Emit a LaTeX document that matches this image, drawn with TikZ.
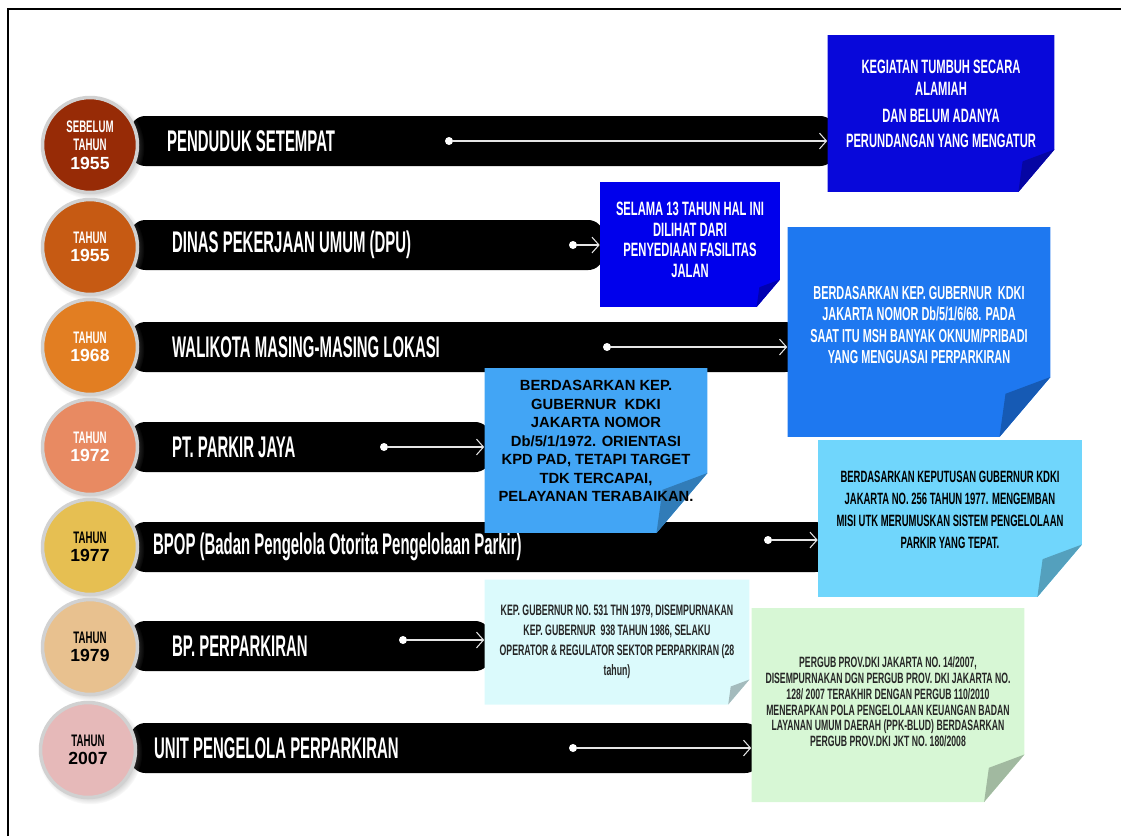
\documentclass[tikz,border=0pt]{standalone}
\usepackage{fontspec}
\setmainfont{Liberation Sans}
\newfontfamily\agency[FakeStretch=0.58]{Liberation Sans}
\newfontfamily\agencybar[FakeStretch=0.5]{Liberation Sans}
\usetikzlibrary{positioning,arrows.meta,shadows}

\definecolor{yr1}{HTML}{972B06}
\definecolor{yr2}{HTML}{C65A13}
\definecolor{yr3}{HTML}{E27E22}
\definecolor{yr4}{HTML}{E88A62}
\definecolor{yr5}{HTML}{E6BF52}
\definecolor{yr6}{HTML}{E8C18F}
\definecolor{yr7}{HTML}{E6B9B9}
\definecolor{nt1}{HTML}{0808DA}
\definecolor{nt2}{HTML}{0000EC}
\definecolor{nt3}{HTML}{1E78F0}
\definecolor{nt4}{HTML}{42A5F5}
\definecolor{nt5}{HTML}{70D6FC}
\definecolor{nt6}{HTML}{DBFAFC}
\definecolor{nt7}{HTML}{D7F7D5}

\newcommand\yearnum[1]{{\rmfamily\bfseries\fontsize{10}{11}\selectfont #1}}

\begin{document}
\begin{tikzpicture}[x=0.02cm,y=-0.02cm,
    year/.style={circle,draw=white!82!black,line width=2pt,minimum size=1.9cm,inner sep=0pt,
        align=center,font=\agency\bfseries\fontsize{9.5}{10.6}\selectfont,
        circular drop shadow={opacity=0.35,shadow xshift=0.04cm,shadow yshift=-0.04cm}},
    bar/.style={fill=black,rounded corners=0.3cm,minimum height=1cm,anchor=west,inner sep=0pt},
    bar text/.style={text=white,font=\agencybar\bfseries\fontsize{17}{19}\selectfont},
    dot/.style={circle,fill=white,inner sep=0pt,minimum size=0.16cm},
    flow/.style={white!90!black,line width=0.6pt,-{Straight Barb[length=4pt,width=9pt]}},
    note/.style n args={3}{inner sep=2pt,align=center,
        path picture={
            \fill[#1] ([yshift=-#3]path picture bounding box.north west)
                -- ([yshift=-#3]path picture bounding box.north east)
                -- ([yshift=#2]path picture bounding box.south east)
                -- ([xshift=-0.85*#2]path picture bounding box.south east)
                -- (path picture bounding box.south west) -- cycle;
            \fill[#1!75!black] ([yshift=#2]path picture bounding box.south east)
                -- ([xshift=-0.75*#2,yshift=0.72*#2]path picture bounding box.south east)
                -- ([xshift=-0.85*#2]path picture bounding box.south east) -- cycle;}}]

    \useasboundingbox (0,0) rectangle (1121,836);
    \draw[line width=1.2pt] (8,836) -- (8,9) -- (1121,9);

    \node[bar,minimum width=14.1cm] (bar1) at (130,141) {};
    \node[bar,minimum width=9.46cm] (bar2) at (130,245) {};
    \node[bar,minimum width=13.4cm] (bar3) at (130,347) {};
    \node[bar,minimum width=7.2cm] (bar4) at (130,447) {};
    \node[bar,minimum width=14cm] (bar5) at (130,547) {};
    \node[bar,minimum width=7.2cm] (bar6) at (130,646) {};
    \node[bar,minimum width=12.6cm] (bar7) at (130,748) {};

    \node[year,fill=yr1,text=white] (y1) at (90,145) {SEBELUM\\TAHUN\\\yearnum{1955}};
    \node[year,fill=yr2,text=white] (y2) at (90,247) {TAHUN\\\yearnum{1955}};
    \node[year,fill=yr3,text=white] (y3) at (90,347) {TAHUN\\\yearnum{1968}};
    \node[year,fill=yr4,text=white] (y4) at (90,447) {TAHUN\\\yearnum{1972}};
    \node[year,fill=yr5] (y5) at (90,547) {TAHUN\\\yearnum{1977}};
    \node[year,fill=yr6] (y6) at (90,647) {TAHUN\\\yearnum{1979}};
    \node[year,fill=yr7] (y7) at (88,750) {TAHUN\\\yearnum{2007}};

    \node[bar text,right=0.62cm of bar1.west] (lab1) {PENDUDUK SETEMPAT};
    \node[bar text,right=0.72cm of bar2.west] (lab2) {DINAS PEKERJAAN UMUM (DPU)};
    \node[bar text,right=0.72cm of bar3.west] (lab3) {WALIKOTA MASING-MASING LOKASI};
    \node[bar text,right=0.72cm of bar4.west] (lab4) {PT. PARKIR JAYA};
    \node[bar text,right=0.34cm of bar5.west] (lab5) {BPOP (Badan Pengelola Otorita Pengelolaan Parkir)};
    \node[bar text,right=0.72cm of bar6.west] (lab6) {BP. PERPARKIRAN};
    \node[bar text,right=0.36cm of bar7.west] (lab7) {UNIT PENGELOLA PERPARKIRAN};

    \node[dot] (d1) at (449,141) {};
    \node[dot] (d2) at (573,245) {};
    \node[dot] (d3) at (607,347) {};
    \node[dot] (d4) at (384,447) {};
    \node[dot] (d5) at (768,540) {};
    \node[dot] (d6) at (403,640) {};
    \node[dot] (d7) at (573,748) {};

    \node[note={nt1}{0.85cm}{0.38cm},minimum width=4.54cm,minimum height=3.52cm,text=white,
        font=\agency\bfseries\fontsize{11}{12.5}\selectfont] (n1) at (941,104)
        {KEGIATAN TUMBUH SECARA\\ALAMIAH\\[2.5pt]DAN BELUM ADANYA\\[2pt]PERUNDANGAN YANG MENGATUR};
    \node[note={nt2}{0.55cm}{0.18cm},minimum width=3.6cm,minimum height=2.68cm,text=white,
        font=\agency\bfseries\fontsize{11}{11.7}\selectfont] (n2) at (690,240)
        {SELAMA 13 TAHUN HAL INI\\DILIHAT DARI\\PENYEDIAAN FASILITAS\\JALAN};
    \node[note={nt3}{1.2cm}{0.28cm},minimum width=5.26cm,minimum height=4.48cm,text=white,
        font=\agency\bfseries\fontsize{10.7}{12.3}\selectfont] (n3) at (919,325)
        {BERDASARKAN KEP. GUBERNUR\ \ KDKI\\JAKARTA NOMOR Db/5/1/6/68. PADA\\SAAT ITU MSH BANYAK OKNUM/PRIBADI\\YANG MENGUASAI PERPARKIRAN};
    \node[note={nt4}{1.2cm}{0.38cm},minimum width=4.46cm,minimum height=3.68cm,
        font=\bfseries\fontsize{8.4}{10.5}\selectfont] (n4) at (596,441)
        {BERDASARKAN KEP.\\GUBERNUR\ \ KDKI\\JAKARTA NOMOR\\Db/5/1/1972. ORIENTASI\\KPD PAD, TETAPI TARGET\\TDK TERCAPAI,\\PELAYANAN TERABAIKAN.};
    \node[note={nt5}{1.05cm}{0.34cm},minimum width=5.28cm,minimum height=3.48cm,
        font=\agency\bfseries\fontsize{9.3}{12.5}\selectfont] (n5) at (950,510)
        {BERDASARKAN KEPUTUSAN GUBERNUR KDKI\\JAKARTA NO. 256 TAHUN 1977. MENGEMBAN\\MISI UTK MERUMUSKAN SISTEM PENGELOLAAN\\PARKIR YANG TEPAT.};
    \node[note={nt6}{0.5cm}{0cm},minimum width=5.3cm,minimum height=2.5cm,text=black!85,
        font=\agency\bfseries\fontsize{8.6}{11.3}\selectfont] (n6) at (617,642)
        {KEP. GUBERNUR NO. 531 THN 1979, DISEMPURNAKAN\\KEP. GUBERNUR\ \ 938 TAHUN 1986, SELAKU\\OPERATOR \& REGULATOR SEKTOR PERPARKIRAN (28\\tahun)};
    \node[note={nt7}{0.95cm}{0.12cm},minimum width=5.46cm,minimum height=4cm,text=black!85,
        font=\agency\bfseries\fontsize{8.5}{9}\selectfont] (n7) at (888,702)
        {PERGUB PROV.DKI JAKARTA NO. 14/2007,\\DISEMPURNAKAN DGN PERGUB PROV. DKI JAKARTA NO.\\128/ 2007 TERAKHIR DENGAN PERGUB 110/2010\\MENERAPKAN POLA PENGELOLAAN KEUANGAN BADAN\\LAYANAN UMUM DAERAH (PPK-BLUD) BERDASARKAN\\PERGUB PROV.DKI JKT NO. 180/2008};

    \path (d1) edge[flow] (d1 -| n1.west)
    (d2) edge[flow] (d2 -| n2.west)
    (d3) edge[flow] (d3 -| n3.west)
    (d4) edge[flow] (d4 -| n4.west)
    (d5) edge[flow] (d5 -| n5.west)
    (d6) edge[flow] (d6 -| n6.west)
    (d7) edge[flow] (d7 -| n7.west);
\end{tikzpicture}
\end{document}
